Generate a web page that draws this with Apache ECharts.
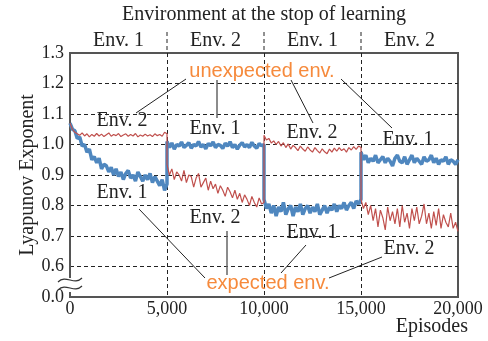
<!DOCTYPE html>
<html>
<head>
<meta charset="utf-8">
<script src="https://cdn.jsdelivr.net/npm/echarts@6/dist/echarts.min.js"></script>
<style>
  html, body { margin: 0; padding: 0; background: #fff; }
  #chart { width: 488px; height: 341px; }
</style>
</head>
<body>
<div id="chart"></div>
<script>
// sampled every 125 episodes, one array per 5000-episode phase
var step = 125
var xTicks = [0, 5000, 10000, 15000, 20000]
var yTicks = [0.5, 0.6, 0.7, 0.8, 0.9, 1.0, 1.1, 1.2, 1.3] // 0.5 is shown as broken "0.0"
var envTop = ['Env. 1', 'Env. 2', 'Env. 1', 'Env. 2']

var bluePhases = [
  [1.07, 1.05, 1.045, 1.02, 1.025, 0.995, 1.0, 0.975, 0.985, 0.95, 0.96, 0.94, 0.955, 0.92, 0.935, 0.93, 0.91, 0.925, 0.9, 0.92, 0.895,
   0.91, 0.885, 0.905, 0.915, 0.89, 0.9, 0.88, 0.91, 0.895, 0.88, 0.9, 0.885, 0.905, 0.875, 0.895, 0.88, 0.865, 0.885, 0.85, 0.87],
  [1.01, 0.99, 1.005, 0.985, 1.0, 0.995, 1.008, 0.99, 0.997, 1.006, 0.988, 1.0, 0.995, 1.01, 0.992, 1.0, 0.986, 1.003, 0.996, 1.008, 0.99,
   1.0, 0.997, 0.987, 1.004, 0.995, 1.009, 0.99, 1.0, 0.985, 0.998, 1.006, 0.992, 1.0, 0.99, 1.007, 0.995, 0.988, 1.003, 0.996, 1.0],
  [0.82, 0.79, 0.805, 0.775, 0.8, 0.765, 0.795, 0.78, 0.81, 0.77, 0.79, 0.8, 0.765, 0.795, 0.78, 0.805, 0.77, 0.79, 0.8, 0.775, 0.795,
   0.78, 0.805, 0.77, 0.785, 0.8, 0.775, 0.795, 0.785, 0.805, 0.78, 0.8, 0.79, 0.81, 0.785, 0.8, 0.81, 0.79, 0.815, 0.805, 0.82],
  [0.975, 0.95, 0.965, 0.94, 0.955, 0.945, 0.965, 0.94, 0.95, 0.96, 0.94, 0.955, 0.945, 0.93, 0.955, 0.965, 0.945, 0.94, 0.96, 0.935, 0.95,
   0.965, 0.94, 0.955, 0.945, 0.935, 0.96, 0.945, 0.95, 0.965, 0.94, 0.955, 0.935, 0.95, 0.945, 0.96, 0.935, 0.95, 0.945, 0.935, 0.95]
]

var redPhases = [
  [1.07, 1.05, 1.04, 1.035, 1.03, 1.038, 1.028, 1.035, 1.025, 1.033, 1.027, 1.036, 1.028, 1.034, 1.026, 1.032, 1.038, 1.027, 1.033, 1.029, 1.036,
   1.026, 1.031, 1.035, 1.027, 1.033, 1.028, 1.036, 1.025, 1.031, 1.027, 1.034, 1.028, 1.032, 1.026, 1.035, 1.029, 1.033, 1.027, 1.04, 1.035],
  [0.935, 0.9, 0.92, 0.885, 0.91, 0.9, 0.88, 0.915, 0.875, 0.9, 0.895, 0.86, 0.89, 0.905, 0.86, 0.875, 0.89, 0.85, 0.88, 0.855, 0.87,
   0.84, 0.865, 0.85, 0.83, 0.86, 0.845, 0.825, 0.85, 0.82, 0.84, 0.81, 0.835, 0.82, 0.8, 0.83, 0.81, 0.795, 0.825, 0.805, 0.81],
  [1.03, 1.015, 1.02, 1.005, 1.012, 1.0, 1.01, 0.995, 1.006, 0.99, 1.002, 0.985, 0.997, 0.99, 0.98, 0.995, 0.985, 0.978, 0.992, 0.982, 0.975,
   0.99, 0.98, 0.972, 0.986, 0.976, 0.97, 0.985, 0.975, 0.988, 0.978, 0.99, 0.98, 0.986, 0.975, 0.99, 0.982, 0.993, 0.984, 0.995, 0.99],
  [0.82, 0.79, 0.81, 0.77, 0.8, 0.75, 0.79, 0.73, 0.785, 0.76, 0.72, 0.795, 0.75, 0.78, 0.74, 0.79, 0.73, 0.8, 0.745, 0.775, 0.725,
   0.79, 0.75, 0.795, 0.74, 0.765, 0.805, 0.74, 0.775, 0.725, 0.78, 0.735, 0.79, 0.725, 0.77, 0.745, 0.73, 0.775, 0.725, 0.745, 0.715]
]

function toPairs(phases) {
  var out = []
  phases.forEach(function (vals, p) {
    vals.forEach(function (v, i) {
      out.push([p * 5000 + i * step, v])
    })
  })
  return out
}

var serif = 'Liberation Serif'
var sans = 'Liberation Sans'
var axisGray = '#555'

var chart = echarts.init(document.getElementById('chart'))
chart.setOption({
  animation: false,
  grid: {
    left: 70, right: 30, top: 53, bottom: 44,
    show: true,
    borderColor: axisGray,
    borderWidth: 2
  },
  xAxis: {
    type: 'value',
    min: 0,
    max: 20000,
    interval: 5000,
    axisLine: { lineStyle: { color: axisGray, width: 2 } },
    axisTick: { show: false },
    axisLabel: {
      color: '#222',
      fontFamily: serif,
      fontSize: 18,
      margin: 3,
      formatter: function (v) { return String(v).replace(/\B(?=(\d{3})+(?!\d))/g, ',') }
    },
    splitLine: {
      show: true,
      showMinLine: false,
      showMaxLine: false,
      lineStyle: { color: '#222', type: [4, 3], width: 1 }
    }
  },
  yAxis: {
    type: 'value',
    min: 0.5,
    max: 1.3,
    interval: 0.1,
    name: 'Lyapunov Exponent',
    nameLocation: 'middle',
    nameGap: 32,
    nameMoveOverlap: false,
    nameTextStyle: { color: '#222', fontFamily: serif, fontSize: 20 },
    axisLine: { lineStyle: { color: axisGray, width: 2 } },
    axisTick: { show: false },
    axisLabel: {
      color: '#222',
      fontFamily: serif,
      fontSize: 18,
      margin: 6,
      formatter: function (v) { return Math.abs(v - 0.5) < 1e-6 ? '0.0' : v.toFixed(1) }
    },
    splitLine: {
      show: true,
      showMinLine: false,
      showMaxLine: false,
      lineStyle: { color: '#222', type: [4, 3], width: 1 }
    }
  },
  series: [
    {
      name: 'blue',
      type: 'line',
      data: toPairs(bluePhases),
      showSymbol: false,
      lineStyle: { color: '#4f87bf', width: 3.5 }
    },
    {
      name: 'red',
      type: 'line',
      data: toPairs(redPhases),
      showSymbol: false,
      lineStyle: { color: '#c0504d', width: 1.2 }
    }
  ]
})

// overlay: header, env labels, annotations, axis break
var g = []
var topY = chart.convertToPixel({ yAxisIndex: 0 }, 1.3)
var botY = chart.convertToPixel({ yAxisIndex: 0 }, 0.5)
var leftX = chart.convertToPixel({ xAxisIndex: 0 }, 0)
var rightX = chart.convertToPixel({ xAxisIndex: 0 }, 20000)

g.push({
  type: 'text', x: (leftX + rightX) / 2, y: 15,
  style: { text: 'Environment at the stop of learning', fontFamily: serif, fontSize: 20, fill: '#222', align: 'center', verticalAlign: 'middle' }
})
envTop.forEach(function (t, i) {
  var cx = chart.convertToPixel({ xAxisIndex: 0 }, i * 5000 + 2500)
  g.push({
    type: 'text', x: cx, y: 41,
    style: { text: t, fontFamily: serif, fontSize: 20, fill: '#222', align: 'center', verticalAlign: 'middle' }
  })
})
;[5000, 10000, 15000].forEach(function (xv) {
  var px = chart.convertToPixel({ xAxisIndex: 0 }, xv)
  g.push({
    type: 'line', shape: { x1: px, y1: 32, x2: px, y2: topY },
    style: { stroke: '#222', lineWidth: 1, lineDash: [4, 3] }
  })
})

g.push({
  type: 'text', x: rightX + 10, y: 327,
  style: { text: 'Episodes', fontFamily: serif, fontSize: 20, fill: '#222', align: 'right', verticalAlign: 'middle' }
})

// annotation labels
var annLabels = [
  ['Env. 2', 122, 121], ['Env. 1', 215, 129], ['Env. 2', 312, 133], ['Env. 1', 408, 140],
  ['Env. 1', 122, 193], ['Env. 2', 215, 218], ['Env. 1', 312, 233], ['Env. 2', 409, 249]
]
annLabels.forEach(function (a) {
  g.push({
    type: 'text', x: a[1], y: a[2], z: 100,
    style: { text: a[0], fontFamily: serif, fontSize: 20, fill: '#222', align: 'center', verticalAlign: 'middle' }
  })
})
g.push({
  type: 'text', x: 262, y: 71, z: 100,
  style: { text: 'unexpected env.', fontFamily: sans, fontSize: 20, fill: '#f68a3c', align: 'center', verticalAlign: 'middle' }
})
g.push({
  type: 'text', x: 268, y: 283, z: 100,
  style: { text: 'expected env.', fontFamily: sans, fontSize: 20, fill: '#f68a3c', align: 'center', verticalAlign: 'middle' }
})
var annLines = [
  [186, 79, 136, 113, '#222'], [217, 80, 217, 118, '#666'], [291, 80, 313, 123, '#222'], [341, 79, 392, 128, '#222'],
  [139, 209, 205, 278, '#222'], [227, 231, 227, 275, '#666'], [306, 245, 281, 273, '#222'], [382, 257, 329, 278, '#222']
]
annLines.forEach(function (l) {
  g.push({
    type: 'line', z: 100, shape: { x1: l[0], y1: l[1], x2: l[2], y2: l[3] },
    style: { stroke: l[4], lineWidth: l[4] === '#666' ? 1.5 : 1 }
  })
})

// axis break on the y axis
g.push({
  type: 'rect', z: 100, shape: { x: leftX - 3, y: botY - 19, width: 6, height: 14 },
  style: { fill: '#fff' }
})
;[botY - 17, botY - 9].forEach(function (yy) {
  g.push({
    type: 'bezierCurve', z: 101,
    shape: { x1: leftX - 12, y1: yy + 2, cpx1: leftX - 4, cpy1: yy - 6, cpx2: leftX + 4, cpy2: yy + 6, x2: leftX + 12, y2: yy - 2 },
    style: { stroke: '#333', lineWidth: 1.2, fill: null }
  })
})

chart.setOption({ graphic: { elements: g } })
</script>
</body>
</html>
